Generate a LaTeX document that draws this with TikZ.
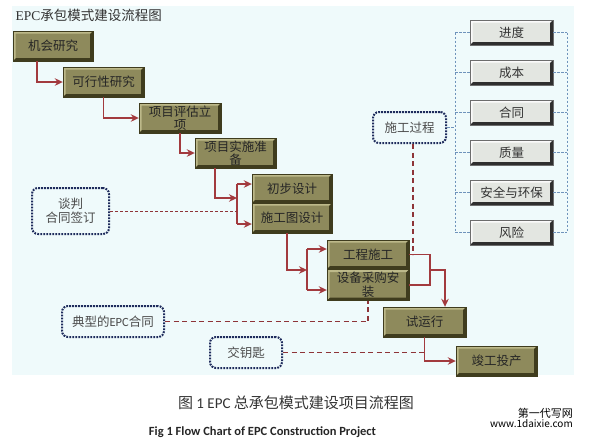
\documentclass[tikz,border=0pt]{standalone}
\usepackage{fontspec}
\setmainfont{Noto Sans CJK SC}
\newfontfamily\latfont{Carlito}
\newfontfamily\serfont{Liberation Serif}
\usepackage{xcolor}
\usepackage{tikz}
\usetikzlibrary{arrows.meta,positioning}

\definecolor{bgcyan}{HTML}{EFFAFB}
\definecolor{olivefill}{HTML}{8E8A5C}
\definecolor{olivelite}{HTML}{BDB98A}
\definecolor{olivedark}{HTML}{3F3C1E}
\definecolor{greyfill}{HTML}{E3E6E1}
\definecolor{greylite}{HTML}{FBFBFB}
\definecolor{greydark}{HTML}{2E2E2E}
\definecolor{redarr}{HTML}{A23A3E}
\definecolor{reddash}{HTML}{8E3438}
\definecolor{navydot}{HTML}{1E2B5C}
\definecolor{bluedash}{HTML}{6F93BB}

\tikzset{
  bevel/.style 2 args={path picture={
    \fill[#1] (path picture bounding box.north west) -- (path picture bounding box.north east)
      -- ++(-2.5pt,-2.5pt) -| ([shift={(2.5pt,2.5pt)}]path picture bounding box.south west)
      -- (path picture bounding box.south west) -- cycle;
    \fill[#2] (path picture bounding box.south east) -- (path picture bounding box.north east)
      -- ++(-3pt,-3pt) |- ([shift={(3pt,3pt)}]path picture bounding box.south west)
      -- (path picture bounding box.south west) -- cycle;
  }},
}

\begin{document}
\begin{tikzpicture}[
    x=1pt, y=-1pt, >=Stealth,
    font=\fontsize{12.5}{13.5}\selectfont,
    stage/.style={rectangle, draw=olivedark, fill=olivefill, bevel={olivelite}{olivedark},
                  align=center, inner sep=0pt, minimum width=81pt, minimum height=30pt,
                  text=black!85},
    ctrl/.style={rectangle, draw=greydark!70, fill=greyfill, bevel={greylite}{greydark},
                 align=center, inner sep=0pt, minimum width=83pt, minimum height=25pt,
                 text=black!80},
    talk/.style={rectangle, draw=navydot, line width=2pt, dash pattern=on 1.8pt off 1.2pt,
                 rounded corners=6pt, align=center, inner sep=0pt, text=black!70},
    arr/.style={-{Stealth[length=8pt,width=7.5pt]}, line width=1.7pt, draw=redarr},
    link/.style={line width=1.7pt, draw=redarr},
    hint/.style={line width=1.3pt, draw=reddash, dash pattern=on 5pt off 3.5pt},
    thinhint/.style={line width=0.6pt, draw=reddash, dash pattern=on 3pt off 2pt},
    bdash/.style={line width=0.6pt, draw=bluedash, dash pattern=on 2.5pt off 1.5pt}
]
\useasboundingbox (0,0) rectangle (596,440);
\fill[bgcyan] (12,6) rectangle (574,375);

% title
\node[anchor=west, font=\fontsize{13.5}{14}\selectfont, text=black!80] (title) at (12,15)
  {{\serfont EPC}承包模式建设流程图};

% main stages
\node[stage, minimum width=80pt] (jihui)  at (53,46)    {机会研究};
\node[stage] (kexing)  at (103.5,82)  {可行性研究};
\node[stage, minimum width=82pt] (pinggu) at (180,118)  {项目评估立\\项};
\node[stage] (zhunbei) at (235.5,153) {项目实施准\\备};
\node[stage, minimum width=80pt, minimum height=29pt] (chubu) at (292,188.5) {初步设计};
\node[stage, minimum width=80pt] (shigongtu) at (292,218) {施工图设计};
\node[stage, minimum width=82pt, minimum height=29pt] (gongcheng) at (368,254.5) {工程施工};
\node[stage, minimum width=82pt, minimum height=31pt] (caigou) at (368,285) {设备采购安\\装};
\node[stage, minimum width=83pt] (shiyun) at (424.5,322) {试运行};
\node[stage] (jungong) at (496.5,361) {竣工投产};

% control items
\foreach \t [count=\i] in {进度,成本,合同,质量,安全与环保,风险}
  \node[ctrl] (ctl\i) at (511.5,{-7.5+40*\i}) {\t};

% dotted notes
\node[talk, minimum width=77pt, minimum height=46pt] (tanpan) at (70.5,211) {谈判\\合同签订};
\node[talk, minimum width=102pt, minimum height=31pt] (dianxing) at (113,321.5) {典型的{\latfont EPC}合同};
\node[talk, minimum width=72pt, minimum height=31pt] (yaoshi) at (246,352.5) {交钥匙};
\node[talk, minimum width=73pt, minimum height=31pt] (guocheng) at (409.5,127.5) {施工过程};

% stage arrows
\draw[arr] ([xshift=-16pt]jihui.south) |- (kexing.west);
\draw[arr] (kexing.south) |- (pinggu.west);
\draw[arr] (pinggu.south) |- (zhunbei.west);

% fork into the design stages
\coordinate (forkA) at (237,198);
\coordinate (forkAtop) at (237,184);
\coordinate (forkAbot) at (237,224);
\draw[arr] ([xshift=-20.5pt]zhunbei.south) |- (forkA);
\draw[link] (forkAtop) -- (forkAbot);
\draw[arr] (forkAtop) -- (forkAtop -| chubu.west);
\draw[arr] (forkAbot) -- (forkAbot -| shigongtu.west);

% fork into construction and procurement
\coordinate (forkB) at (307,270);
\coordinate (forkBtop) at (307,249);
\coordinate (forkBbot) at (307,290);
\draw[arr] ([xshift=-5pt]shigongtu.south) |- (forkB);
\draw[link] (forkBtop) -- (forkBbot);
\draw[arr] (forkBtop) -- (forkBtop -| gongcheng.west);
\draw[arr] (forkBbot) -- (forkBbot -| caigou.west);

% join towards trial run
\coordinate (join) at (430,270);
\draw[link] (gongcheng.east) -| (join);
\draw[link] (caigou.east) -| (join);
\draw[arr] (join) -| ([xshift=20.5pt]shiyun.north);
\draw[arr] (shiyun.south) |- (jungong.west);

% dashed hints
\draw[thinhint] (tanpan.east) -- (tanpan.east -| forkA);
\draw[hint] (dianxing.east) -| (caigou.south);
\draw[hint] (yaoshi.east) -- (yaoshi.east -| shiyun.south);
\draw[hint] ([xshift=3.5pt]guocheng.south) -- ([xshift=3.5pt]guocheng.south |- gongcheng.east);

% bracket of control items
\coordinate (bl) at ([xshift=-15pt]ctl1.west);
\coordinate (br) at ([xshift=14pt]ctl1.east);
\foreach \i in {1,...,6} {
  \draw[bdash] (ctl\i.west) -- (ctl\i.west -| bl);
  \draw[bdash] (ctl\i.east) -- (ctl\i.east -| br);
}
\draw[bdash] (bl) -- (bl |- ctl6.west);
\draw[bdash] (br) -- (br |- ctl6.east);
\draw[bdash] (guocheng.east) -- (guocheng.east -| bl);

% captions
\node[font=\fontsize{15}{16}\selectfont, text=black!80] (capcn) at (296,403)
  {图 {\latfont 1 EPC} 总承包模式建设项目流程图};
\node[font=\latfont\bfseries\fontsize{12.5}{14}\selectfont, text=black!85] (capen) at (262.5,432)
  {Fig 1 Flow Chart of EPC Construction Project};
\node[anchor=east, font=\fontsize{11}{12}\selectfont, inner sep=0pt] (wm1) at (573,413) {第一代写网};
\node[anchor=east, font=\fontsize{10}{11}\selectfont, inner sep=0pt] (wm2) at (573,424) {www.1daixie.com};
\end{tikzpicture}
\end{document}
